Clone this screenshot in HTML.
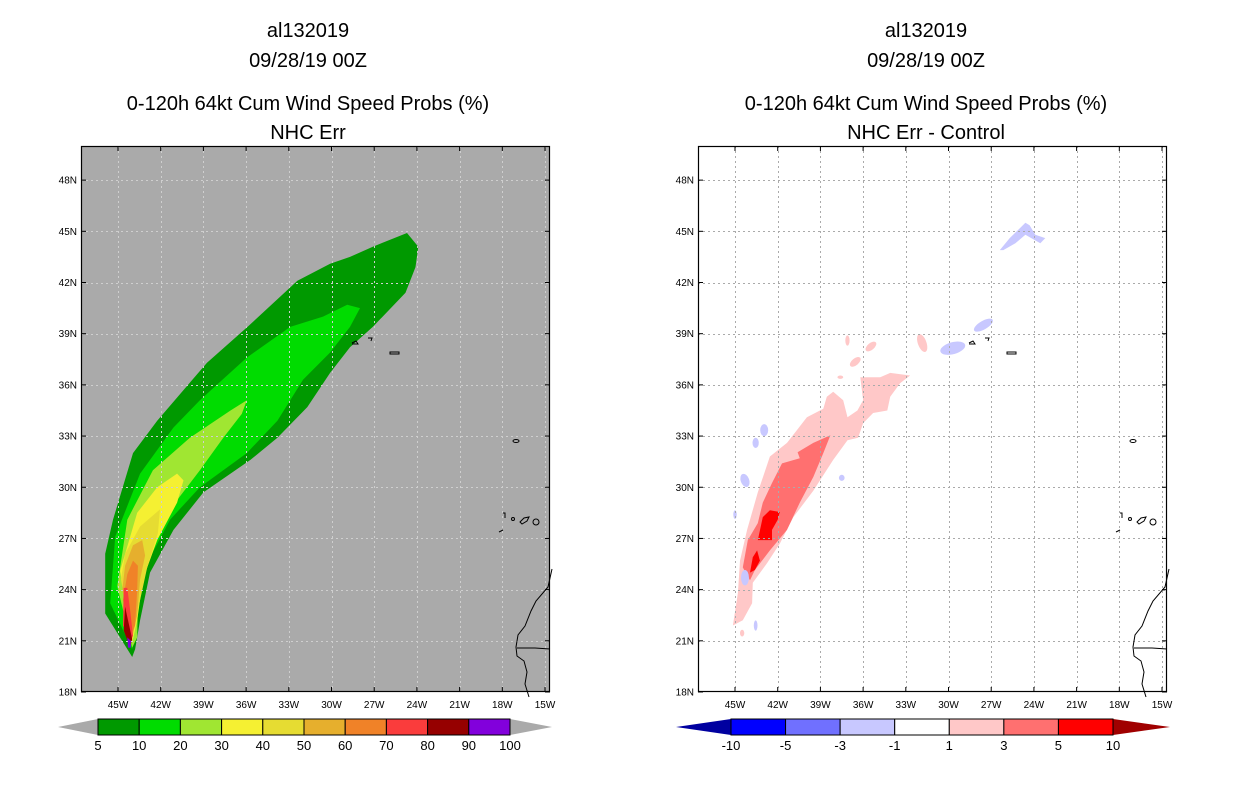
<!DOCTYPE html>
<html><head><meta charset="utf-8">
<style>
html,body{margin:0;padding:0;background:#fff;}
svg{display:block;font-family:"Liberation Sans",sans-serif;}
</style></head>
<body>
<svg id="chart" width="1236" height="800" viewBox="0 0 1236 800" xmlns="http://www.w3.org/2000/svg">
<g font-size="20" text-anchor="middle" fill="#000">
<text x="308" y="37">al132019</text>
<text x="308" y="67">09/28/19 00Z</text>
<text x="308" y="110">0-120h 64kt Cum Wind Speed Probs (%)</text>
<text x="308" y="139">NHC Err</text>
</g>
<g font-size="20" text-anchor="middle" fill="#000">
<text x="926" y="37">al132019</text>
<text x="926" y="67">09/28/19 00Z</text>
<text x="926" y="110">0-120h 64kt Cum Wind Speed Probs (%)</text>
<text x="926" y="139">NHC Err - Control</text>
</g>
</svg>
<script>
const lonTicks=[-45,-42,-39,-36,-33,-30,-27,-24,-21,-18,-15];
const latTicks=[18,21,24,27,30,33,36,39,42,45,48];
const probLevels=[5,10,20,30,40,50,60,70,80,90,100];
const probColors=["#009900","#00dc00","#a0e632","#f5f032","#e6dc32","#e6af2d","#f08228","#fa3c3c","#960000","#8200dc"];
const diffLevels=[-10,-5,-3,-1,1,3,5,10];
const diffColors=["#0000a0","#0000ff","#7070ff","#c8c8ff","#ffffff","#ffc8c8","#ff7070","#ff0000","#a00000"];
const prob5=[[-44,20.05],[-45.9,22.6],[-45.9,26.1],[-45.35,28.1],[-43.95,32],[-42.25,33.9],[-38.75,37.3],[-35.9,39.4],[-32.4,42.1],[-30.1,43.1],[-28.7,43.5],[-27.1,44.1],[-24.7,44.9],[-23.9,44.1],[-24.1,42.9],[-24.8,41.4],[-27.1,39.4],[-28.7,38.2],[-30.1,36.7],[-31.7,34.7],[-33.8,32.9],[-35.7,31.6],[-39,29.7],[-41.1,27.5],[-42.75,25],[-43.45,22.2],[-43.8,20.5]];
const prob10=[[-44,20.5],[-45.55,23.2],[-45.2,27.1],[-43.45,30.8],[-41.1,33.5],[-39.25,35.1],[-35.95,37.6],[-32.9,39.4],[-30.6,40],[-28.9,40.7],[-28,40.5],[-28.7,39.4],[-30.1,37.9],[-32,36.3],[-33.8,33.9],[-35.95,32],[-39.25,30],[-41.35,28.1],[-43.25,25.1],[-43.65,22.2]];
const prob20=[[-44,20.6],[-45.05,24.2],[-44.35,28.1],[-42.55,31],[-39.95,32.9],[-37.1,34.5],[-35.95,35.1],[-36.3,34.3],[-37.6,32.9],[-39.25,31],[-41.35,28.7],[-42.75,26.1],[-43.6,23.2],[-43.65,21.2]];
const prob30=[[-44,20.9],[-44.85,25.1],[-43.65,28.5],[-42.25,30],[-40.85,30.8],[-40.4,30.4],[-40.85,29.1],[-42.25,26.9],[-43.25,24.6],[-43.65,22.2]];
const prob40=[[-44,21.1],[-44.8,24.6],[-44.5,26.1],[-43.45,27.7],[-42.05,28.7],[-42.2,27.3],[-42.95,25.3],[-43.6,22.8]];
const prob50=[[-44.7,24],[-44.5,25.4],[-43.95,26.6],[-43.3,26.9],[-43.1,26],[-43.45,24.6],[-43.65,22.5],[-44,21.2]];
const prob60=[[-44.65,23.4],[-44.35,24.9],[-43.95,25.7],[-43.6,25.4],[-43.65,24],[-43.8,21.9],[-44.1,21.3]];
const prob70=[[-44.65,21.9],[-44.6,24.1],[-44.35,24.1],[-44.15,22.8],[-43.95,21.3],[-44.1,21]];
const prob80=[[-44.6,21.6],[-44.5,23],[-44.3,22.2],[-44,21.1],[-44.15,20.6]];
const prob90=[[-44.35,21.2],[-44.1,21],[-44.1,20.6],[-44.3,20.6]];
const probContours=[prob5,prob10,prob20,prob30,prob40,prob50,prob60,prob70,prob80,prob90];
const diffPink=[[-45.15,21.9],[-44.8,23.8],[-44.65,25.7],[-44.15,27.5],[-43.4,29.7],[-42.55,31.8],[-41.35,32.6],[-39.95,34.1],[-38.8,34.6],[-38.55,35.3],[-38.1,35.6],[-37.4,35.1],[-37.1,34.1],[-36.4,34.5],[-36,35.1],[-36.2,36.45],[-35.5,36.45],[-34.8,36.45],[-34.1,36.7],[-32.7,36.55],[-33.4,36.1],[-34.1,35.3],[-34.3,34.5],[-35.3,34.35],[-36,33.75],[-36.35,32.9],[-37.1,32.75],[-38.1,31.6],[-39.5,29.8],[-40.9,28.25],[-41.85,26.7],[-42.75,25.55],[-43.75,24.4],[-43.8,23.2],[-44.45,22.2]];
const diffMid=[[-44.45,25.3],[-44.1,26.9],[-43.4,27.9],[-43.05,29.1],[-42.4,30.25],[-41.7,31.4],[-40.45,31.7],[-40.6,32.05],[-39.5,32.6],[-38.3,33.05],[-38.8,32],[-39.5,30.6],[-40.45,29.1],[-41.35,27.5],[-42.55,26.3],[-43.6,25.15],[-43.95,24.55]];
const diffRedA=[[-43.4,26.9],[-43.05,28.25],[-42.55,28.65],[-41.85,28.55],[-42,28.1],[-42.4,27.5],[-42.4,26.9]];
const diffRedB=[[-43.95,25],[-43.75,25.9],[-43.45,26.3],[-43.25,25.7],[-43.6,25.15]];
const diffBlueArc=[[-26.4,43.9],[-25.7,44.6],[-24.6,45.5],[-24.3,45.35],[-23.9,44.8],[-23.2,44.6],[-23.55,44.3],[-24.6,44.8],[-25.3,44.3],[-26.15,43.9]];
const pinkBlobs=[[-37.1,38.6,0.15,0.3,0],[-35.45,38.25,0.45,0.2,-40],[-36.55,37.35,0.45,0.2,-40],[-31.85,38.45,0.3,0.55,-20],[-37.6,36.45,0.2,0.1,0],[-44.5,21.45,0.15,0.2,0]];
const blueBlobs=[[-27.55,39.5,0.75,0.25,-30],[-29.7,38.15,0.9,0.35,-15],[-44.3,24.7,0.28,0.45,0],[-42.95,33.35,0.28,0.35,0],[-43.55,32.6,0.22,0.3,0],[-44.3,30.4,0.3,0.4,-20],[-45,28.4,0.12,0.25,0],[-43.55,21.9,0.13,0.3,0],[-37.5,30.55,0.2,0.18,0]];

const NS='http://www.w3.org/2000/svg';
const svg=document.getElementById('chart');
function el(tag,attrs,parent){const e=document.createElementNS(NS,tag);for(const k in attrs)e.setAttribute(k,attrs[k]);(parent||svg).appendChild(e);return e;}
const LON0=-47.6,LON1=-14.65,LAT0=18,LAT1=50,PW=469,PH=546,PT=146;
function xs(left,lon){return left+(lon-LON0)/(LON1-LON0)*PW;}
function ys(lat){return PT+PH-(lat-LAT0)/(LAT1-LAT0)*PH;}
function pts(left,arr){return arr.map(p=>xs(left,p[0]).toFixed(1)+','+ys(p[1]).toFixed(1)).join(' ');}
const kx=PW/(LON1-LON0),ky=PH/(LAT1-LAT0);

function panel(left,bg,name){
  const g=el('g',{});
  
  
  const clipId='clip'+left;
  const cp=el('clipPath',{id:clipId},g);el('rect',{x:left,y:PT,width:PW,height:PH},cp);
  const bgR=el('rect',{x:left,y:PT,width:PW,height:PH,fill:bg},g);
  
  
  const body=el('g',{'clip-path':'url(#'+clipId+')'},g);
  return {g,body};
}
function grid(p,left,col){
  const gg=el('g',{stroke:col,'stroke-width':1,'stroke-dasharray':'2,3'},p.g);
  
  
  lonTicks.forEach(t=>{const x=Math.round(xs(left,t))+0.5;el('line',{x1:x,x2:x,y1:PT,y2:PT+PH},gg);});
  latTicks.forEach(t=>{if(t===18)return;const y=Math.round(ys(t))+0.5;el('line',{x1:left,x2:left+PW,y1:y,y2:y},gg);});
}
function coast(p,left){
  const o=left-81;
  const cg=el('g',{fill:'none',stroke:'#000','stroke-width':1},p.g);
  
  
  const sh=a=>a.map(q=>(q[0]+o)+','+q[1]).join(' ');
  el('polyline',{points:sh([[552,569],[548,587],[536,601],[531,611],[525,626],[518,635],[516,647],[517,656],[524,661],[527,672],[525,684],[529,697]])},cg);
  el('polyline',{points:sh([[517,648],[535,648],[550,649]])},cg);
  el('polygon',{points:sh([[520,522],[524,518],[529,517],[527,521],[522,524]])},cg);
  el('ellipse',{cx:536+o,cy:522,rx:3,ry:3},cg);
  el('ellipse',{cx:513+o,cy:519,rx:1.5,ry:1.5},cg);
  el('polyline',{points:sh([[503,513],[505,513],[505,518]])},cg);
  el('polyline',{points:sh([[499,532],[503,530]])},cg);
  el('ellipse',{cx:516+o,cy:441,rx:3,ry:1.5},cg);
  el('polyline',{points:sh([[352,343],[356,341],[358,344],[352,344]])},cg);
  el('polyline',{points:sh([[368,338],[372,338],[371,341]])},cg);
  el('rect',{x:390+o,y:352,width:9,height:2},cg);
}
function axes(p,left){
  const ag=el('g',{},p.g);
  
  
  el('rect',{x:left+0.5,y:PT+0.5,width:PW-1,height:PH-1,fill:'none',stroke:'#000','stroke-width':1.2},ag);
  latTicks.forEach(t=>{const y=ys(t);
    el('line',{x1:left,x2:left+5,y1:y,y2:y,stroke:'#000'},ag);
    el('line',{x1:left+PW-5,x2:left+PW,y1:y,y2:y,stroke:'#000'},ag);
    const tx=el('text',{x:left-4,y:y+3.5,'font-size':10,'text-anchor':'end'},ag);tx.textContent=t+'N';
    
    });
  lonTicks.forEach(t=>{const x=xs(left,t);
    el('line',{x1:x,x2:x,y1:PT+PH-5,y2:PT+PH,stroke:'#000'},ag);
    el('line',{x1:x,x2:x,y1:PT,y2:PT+5,stroke:'#000'},ag);
    const tx=el('text',{x:x,y:PT+PH+16,'font-size':10,'text-anchor':'middle'},ag);tx.textContent=(-t)+'W';
    
    });
}
function blob(parent,left,b,fill){
  const e=el('ellipse',{cx:xs(left,b[0]),cy:ys(b[1]),rx:b[2]*kx,ry:b[3]*ky,fill:fill,transform:'rotate('+b[4]+' '+xs(left,b[0])+' '+ys(b[1])+')'},parent);
  
  
}

const L=81;
const pl=panel(L,'#aaaaaa','left-map');
probContours.forEach((c,i)=>{const e=el('polygon',{points:pts(L,c),fill:probColors[i]},pl.body);
  
  });
grid(pl,L,'#cfcfcf');coast(pl,L);axes(pl,L);

const R=698;
const pr=panel(R,'#ffffff','right-map');
grid(pr,R,'#aaaaaa');
[[diffPink,5],[diffMid,6],[diffRedA,7],[diffRedB,7],[diffBlueArc,3]].forEach(c=>{const e=el('polygon',{points:pts(R,c[0]),fill:diffColors[c[1]]},pr.body);
  
  });
pinkBlobs.forEach(b=>blob(pr.body,R,b,diffColors[5]));
blueBlobs.forEach(b=>blob(pr.body,R,b,diffColors[3]));
coast(pr,R);axes(pr,R);

function colorbar(x0,x1,tipL,tipR,levels,colors,lowCol,highCol,name){
  const g=el('g',{});
  
  
  const y0=719,y1=735,ym=727;
  const n=colors.length,w=(x1-x0)/n;
  el('polygon',{points:`${tipL},${ym} ${x0},${y0} ${x0},${y1}`,fill:lowCol},g);
  el('polygon',{points:`${tipR},${ym} ${x1},${y0} ${x1},${y1}`,fill:highCol},g);
  colors.forEach((c,i)=>{const r=el('rect',{x:x0+i*w,y:y0,width:w,height:y1-y0,fill:c,stroke:'#000','stroke-width':1},g);
    
    });
  levels.forEach((v,i)=>{const t=el('text',{x:x0+i*w,y:750,'font-size':13,'text-anchor':'middle'},g);t.textContent=v;
    
    });
}
colorbar(98,510,58,552,probLevels,probColors,'#aaaaaa','#aaaaaa','prob-colorbar');
colorbar(731,1113,676,1170,diffLevels,diffColors.slice(1,8),diffColors[0],diffColors[8],'diff-colorbar');
</script>
</body></html>
